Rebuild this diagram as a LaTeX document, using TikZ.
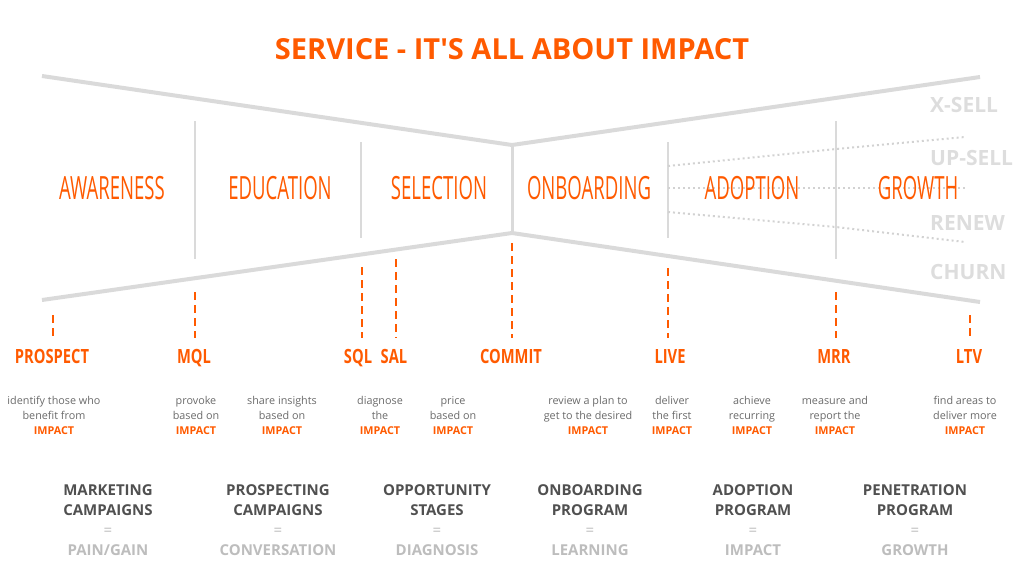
\documentclass[tikz,border=0pt]{standalone}
\usepackage{fontspec}
\setmainfont{Open Sans}
\usepackage{graphicx}
\usepackage{xcolor}
\usepackage{tikz}
\usetikzlibrary{positioning}

\definecolor{impact}{HTML}{FF5A00}
\definecolor{funnel}{HTML}{DADADA}
\definecolor{dotgray}{HTML}{D2D2D2}
\definecolor{sidegray}{HTML}{DDDDDD}
\definecolor{descgray}{HTML}{6A6A6A}
\definecolor{proggray}{HTML}{505050}
\definecolor{litegray}{HTML}{BDBDBD}

\newcommand{\narrow}[2]{\scalebox{#1}[1]{#2}}
\newcommand{\imp}{{\bfseries\color{impact}IMPACT}}

\begin{document}
\begin{tikzpicture}[x=1pt, y=-1pt,
  stage/.style={text=impact, font=\fontsize{32}{32}\selectfont, inner sep=0pt},
  mile/.style={text=impact, font=\bfseries\fontsize{19.6}{20}\selectfont, inner sep=0pt, outer sep=11pt, anchor=base},
  desc/.style={text=descgray, font=\fontsize{10.8}{15}\selectfont, align=center},
  prog/.style={text=proggray, font=\bfseries\fontsize{15}{20}\selectfont, align=center},
  side/.style={text=sidegray, font=\bfseries\fontsize{21}{21}\selectfont, anchor=west, inner sep=0pt},
  rim/.style={funnel, line width=4pt},
  divider/.style={funnel, line width=2pt},
  trend/.style={dotgray, line width=2pt, dash pattern=on 2pt off 3pt},
  gate/.style={impact, line width=2.5pt, dash pattern=on 8pt off 5pt}]

\useasboundingbox (0,0) rectangle (1024,576);

% Title
\node[text=impact, font=\bfseries\fontsize{29}{29}\selectfont] (title) at (512,49) {SERVICE - IT\textquotesingle S ALL ABOUT IMPACT};

% Funnel outline
\coordinate (tl) at (42,76);
\coordinate (tc) at (512,145);
\coordinate (tr) at (980,77);
\coordinate (bl) at (42,300);
\coordinate (bc) at (512,233);
\coordinate (br) at (980,302);
\draw[rim] (tl) -- (tc) -- (tr);
\draw[rim] (bl) -- (bc) -- (br);
\draw[divider, line width=3pt] (tc) -- (bc);

% Stage dividers
\foreach \x/\a/\b in {195/121/259, 361/142/238, 668/142/238, 836/121/259} {
    \draw[divider] (\x,\a) -- (\x,\b);
}

% Expansion / churn paths
\draw[trend] (668,166) -- (836,149) -- (965,137);
\draw[trend] (668,188) -- (965,188);
\draw[trend] (668,212) -- (836,227) -- (965,242);

% Stages
\foreach \n/\x/\t in {aware/112/AWARENESS, educ/280/EDUCATION, selec/439/SELECTION, onboard/589/ONBOARDING, adopt/752/ADOPTION, growth/918/GROWTH} {
    \node[stage] (\n) at (\x,188) {\narrow{0.58}{\t}};
}

% Outcomes on the right
\foreach \n/\y/\t in {xsell/105/X-SELL, upsell/158/UP-SELL, renew/223/RENEW, churn/272/CHURN} {
    \node[side] (\n) at (930,\y) {\t};
}

% Milestones
\foreach \n/\lx/\dx/\top/\t in {prospect/52/53/315/PROSPECT, mql/194/195/292/MQL, sql/358/362/267/SQL, sal/394/396/259/SAL, commit/511/512/243/COMMIT, live/670/668/268/LIVE, mrr/834/836/292/MRR, ltv/969/970/315/LTV} {
    \node[mile] (\n) at (\lx,363) {\narrow{0.75}{\t}};
    \coordinate (\n top) at (\dx,\top);
    \draw[gate] (\n top) -- (\n top |- \n.north);
}

% What to do at each step
\foreach \x/\t [count=\i] in {54/{identify those who\\benefit from}, 196/{provoke\\based on}, 282/{share insights\\based on}, 380/{diagnose\\the}, 453/{price\\based on}, 588/{review a plan to\\get to the desired}, 672/{deliver\\the first}, 752/{achieve\\recurring}, 835/{measure and\\report the}, 965/{find areas to\\deliver more}} {
    \node[desc] (desc\i) at (\x,416) {\strut\t\\\imp\strut};
}

% Programs
\foreach \n/\x/\a/\b/\c in {mkt/108/MARKETING/CAMPAIGNS/PAIN{/}GAIN, pros/278/PROSPECTING/CAMPAIGNS/CONVERSATION, opp/437/OPPORTUNITY/STAGES/DIAGNOSIS, onb/590/ONBOARDING/PROGRAM/LEARNING, adp/753/ADOPTION/PROGRAM/IMPACT, pen/915/PENETRATION/PROGRAM/GROWTH} {
    \node[prog] (\n) at (\x,520) {\a\\\b\\{\color{litegray}\mdseries =}\\{\color{litegray}\c}};
}

\end{tikzpicture}
\end{document}
